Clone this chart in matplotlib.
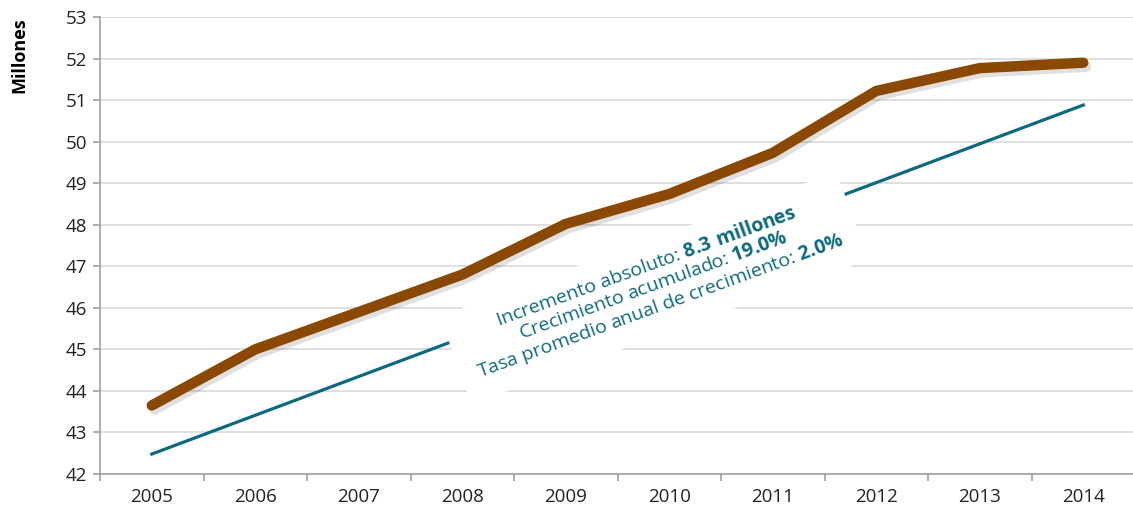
import numpy as np
import matplotlib.pyplot as plt
import matplotlib.patheffects as pe
from matplotlib.ticker import FixedLocator

plt.rcParams['font.family'] = ['Open Sans', 'DejaVu Sans']
plt.rcParams['mathtext.fontset'] = 'custom'
plt.rcParams['mathtext.rm'] = 'Open Sans'
plt.rcParams['mathtext.bf'] = 'Open Sans:bold'

# data
years = ['2005', '2006', '2007', '2008', '2009', '2010', '2011', '2012', '2013', '2014']
poblacion = [43.65, 45.0, 45.9, 46.8, 48.02, 48.74, 49.73, 51.22, 51.77, 51.9]
tendencia = [42.48, 50.88]   # linear trend, first and last year
y_ticks = list(range(42, 54))

texto = ("Incremento absoluto: $\\bf{8.3\\ millones}$\n"
         "Crecimiento acumulado: $\\bf{19.0\\%}$\n"
         "Tasa promedio anual de crecimiento: $\\bf{2.0\\%}$")

brown = '#8B4800'
teal = '#0D6A7E'
grey = '#A0A0A0'

fig = plt.figure(figsize=(11.33, 5.12), dpi=100)
ax = fig.add_axes([100/1133, 38/512, 1035/1133, 457/512])

x = np.arange(len(years))
ax.plot([x[0], x[-1]], tendencia, color=teal, lw=2.3, zorder=2)

ax.plot(x, poblacion, color=brown, lw=7.5, solid_capstyle='round',
        solid_joinstyle='miter', zorder=4,
        path_effects=[pe.SimpleLineShadow(offset=(2, -3), alpha=0.12, shadow_color='black'),
                      pe.Normal()])

ax.text(4.85, 46.5, texto, rotation=20, rotation_mode='anchor',
        ha='center', va='center', multialignment='center',
        fontsize=14, color=teal, zorder=3, linespacing=1.1,
        bbox=dict(facecolor='white', edgecolor='none', pad=12))

ax.set_xlim(-0.5, len(years) - 0.5)
ax.set_ylim(42, 53)
ax.set_yticks(y_ticks)
ax.set_xticks(x)
ax.set_xticklabels(years)
ax.xaxis.set_minor_locator(FixedLocator(np.arange(-0.5, len(years), 1.0)))
ax.tick_params(axis='x', which='major', length=0, pad=10, labelsize=13.5, colors='#222222')
ax.tick_params(axis='x', which='minor', length=5, color=grey, width=1.2)
ax.tick_params(axis='y', length=5, color=grey, width=1.2, labelsize=13.5,
               labelcolor='#222222', pad=4)

ax.grid(axis='y', color='#D9D9D9', lw=1.2, zorder=0)
ax.set_axisbelow(True)
for s in ['top', 'right']:
    ax.spines[s].set_visible(False)
for s in ['left', 'bottom']:
    ax.spines[s].set_color(grey)
    ax.spines[s].set_linewidth(1.2)

fig.text(19/1133, 1 - 55/512, 'Millones', rotation=90, ha='center', va='center',
         fontsize=13, fontweight='bold', color='black')

fig.savefig('out.png', dpi=100)
